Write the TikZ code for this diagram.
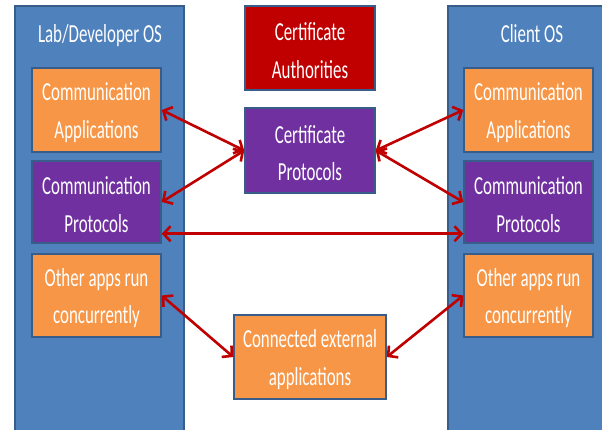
\documentclass[tikz,border=0pt]{standalone}
\usepackage{fontspec}
\setmainfont{Carlito}[FakeStretch=0.65]
\usetikzlibrary{arrows.meta}
\definecolor{osblue}{HTML}{4F81BD}
\definecolor{edgeblue}{HTML}{385D8A}
\definecolor{orangebox}{HTML}{F79646}
\definecolor{purplebox}{HTML}{7030A0}
\definecolor{redbox}{HTML}{C00000}
\definecolor{arrowred}{HTML}{C00000}
\tikzset{
  boxtext/.style={text=white, align=center, inner sep=0pt, font=\fontsize{26}{37.5}\selectfont},
  box/.style={boxtext, draw=edgeblue, line width=1.5pt, rectangle},
  tx/.style={label={[boxtext, yshift=-2.5pt]center:#1}},
  osbox/.style={box, fill=osblue},
  inner/.style={box, minimum width=129pt},
  link/.style={draw=arrowred, line width=2.6pt, {Straight Barb[length=7pt,width=15pt]}-{Straight Barb[length=7pt,width=15pt]}},
}
\begin{document}
\begin{tikzpicture}[x=1pt,y=-1pt]
\clip (0,0) rectangle (602,429);
\fill[white] (0,0) rectangle (602,429);
% OS containers
\node[osbox, minimum width=169pt, minimum height=434pt] (leftos) at (99.5,223) {};
\node[osbox, minimum width=172pt, minimum height=434pt] (rightos) at (534,223) {};
\node[boxtext, anchor=base] (lefttitle) at (100,42) {Lab/Developer OS};
\node[boxtext, anchor=base] (righttitle) at (532,42) {Client OS};
% left inner boxes
\node[inner, fill=orangebox, minimum height=84pt, tx={Communication\\Applications}] (lca) at (96.5,110) {};
\node[inner, fill=purplebox, minimum height=82pt, tx={Communication\\Protocols}] (lcp) at (96.5,202) {};
\node[inner, fill=orangebox, minimum height=83pt, tx={Other apps run\\concurrently}] (loa) at (96.5,295.5) {};
% right inner boxes
\node[inner, fill=orangebox, minimum height=84pt, tx={Communication\\Applications}] (rca) at (528.5,110) {};
\node[inner, fill=purplebox, minimum height=82pt, tx={Communication\\Protocols}] (rcp) at (528.5,202) {};
\node[inner, fill=orangebox, minimum height=83pt, tx={Other apps run\\concurrently}] (roa) at (528.5,295.5) {};
% middle boxes
\node[box, fill=redbox, minimum width=130pt, minimum height=84pt, tx={Certificate\\Authorities}] (ca) at (310,48) {};
\node[box, fill=purplebox, minimum width=130pt, minimum height=85pt, tx={Certificate\\Protocols}] (cp) at (310,150.5) {};
\node[box, fill=orangebox, minimum width=152pt, minimum height=84pt, tx={Connected external\\applications}] (ce) at (310,357) {};
% connectors
\draw[link] (lca.east) -- (cp.west);
\draw[link] (lcp.east) -- (cp.west);
\draw[link] (cp.east) -- (rca.west);
\draw[link] (cp.east) -- (rcp.west);
\draw[link] ([yshift=10pt]lcp.south east) -- ([yshift=10pt]rcp.south west);
\draw[link] (loa.east) -- (ce.west);
\draw[link] (roa.west) -- (ce.east);
\end{tikzpicture}
\end{document}
